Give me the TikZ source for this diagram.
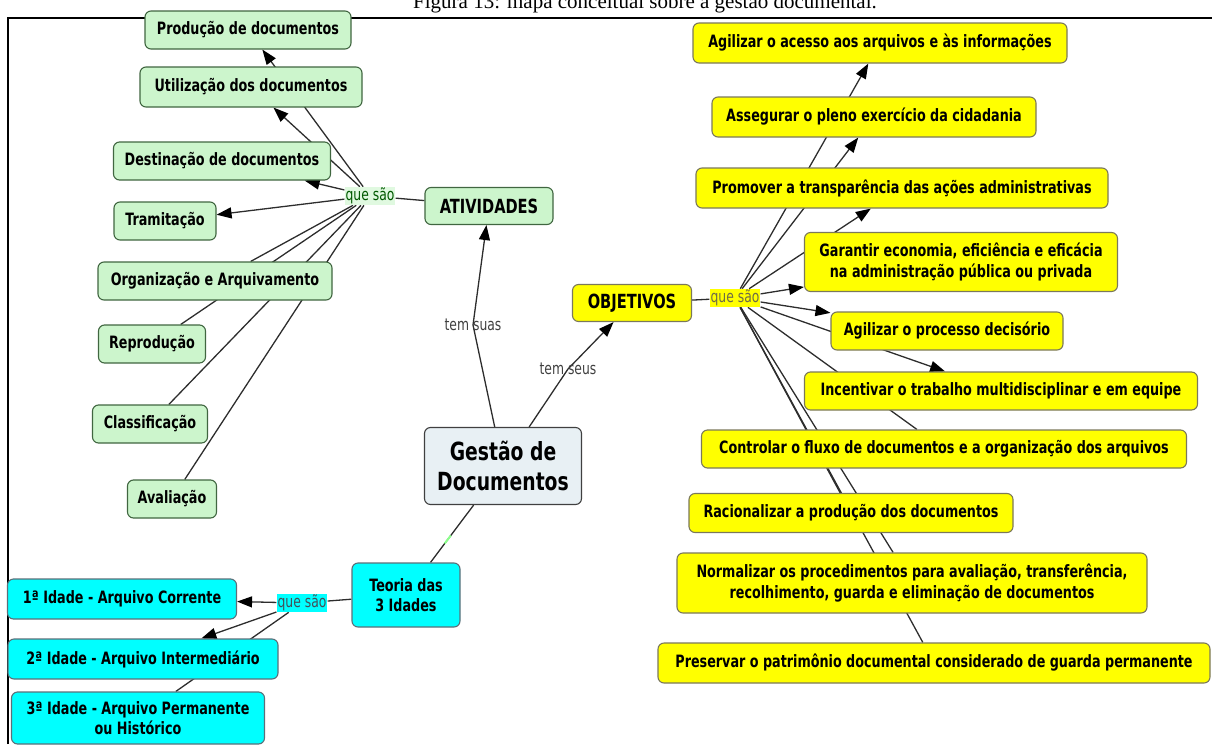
\documentclass[tikz,border=0pt]{standalone}
\usepackage{fontspec}
\usepackage{xcolor}
\usepackage{tikz}
\usetikzlibrary{arrows.meta,backgrounds}
\newfontfamily\cmapfont{DejaVu Sans}[FakeStretch=0.75]
\newfontfamily\capfont{Liberation Serif}
\definecolor{verde}{RGB}{204,245,204}
\definecolor{amarelo}{RGB}{255,255,0}
\definecolor{ciano}{RGB}{0,255,255}
\definecolor{cinza}{RGB}{232,240,244}
\definecolor{linha}{RGB}{45,45,45}

\begin{document}
\begin{tikzpicture}[x=1pt,y=-1pt,
  conc/.style={draw=black!75,line width=1.1pt,rounded corners=6pt,inner sep=2pt,align=center,
    font=\cmapfont\bfseries\fontsize{17}{20.5}\selectfont,text=black},
  gconc/.style={conc,fill=verde,draw=green!20!black!75},
  yconc/.style={conc,fill=amarelo,draw=yellow!30!black!85},
  cconc/.style={conc,fill=ciano,draw=cyan!30!black!85},
  link/.style={font=\cmapfont\fontsize{16.5}{20}\selectfont,text=black!75,inner sep=1pt},
  every edge/.append style={draw=linha,line width=1.3pt},
  >={Triangle[length=15pt,width=11pt,color=black]}]
\useasboundingbox (0,0) rectangle (1212,744);

% titulo e moldura
\node[font=\capfont\fontsize{21}{24}\selectfont,anchor=base] (titulo) at (645,9) {Figura 13: mapa conceitual sobre a gestão documental.};
\draw[line width=2pt] (8,744) -- (8,18) -- (1212,18);

% centro
\node[conc,fill=cinza,minimum width=157,minimum height=77,
  font=\cmapfont\bfseries\fontsize{25}{30}\selectfont] (gest) at (503,466) {Gestão de\\Documentos};
\node[link] (tsuas) at (473,325) {tem suas};
\node[link] (tseus) at (568,369) {tem seus};

% atividades
\node[gconc,minimum width=128,minimum height=37,font=\cmapfont\bfseries\fontsize{19.5}{22}\selectfont] (ativ) at (489,206) {ATIVIDADES};
\node[link,fill=verde!60,text=green!35!black] (qsG) at (370,196) {que são};
\node[gconc,minimum width=206,minimum height=38] (prod) at (248,30)  {Produção de documentos};
\node[gconc,minimum width=222,minimum height=40] (util) at (251,87)  {Utilização dos documentos};
\node[gconc,minimum width=217,minimum height=38] (dest) at (222,161) {Destinação de documentos};
\node[gconc,minimum width=102,minimum height=38] (tram) at (165,221) {Tramitação};
\node[gconc,minimum width=234,minimum height=38] (org)  at (215,281) {Organização e Arquivamento};
\node[gconc,minimum width=107,minimum height=38] (repr) at (152,344) {Reprodução};
\node[gconc,minimum width=115,minimum height=38] (clas) at (150,424) {Classificação};
\node[gconc,minimum width=89,minimum height=38]  (aval) at (172,499) {Avaliação};

% objetivos
\node[yconc,minimum width=119,minimum height=37,font=\cmapfont\bfseries\fontsize{19.5}{22}\selectfont] (obj) at (632,303) {OBJETIVOS};
\node[link,fill=amarelo,text=yellow!35!black] (qsY) at (735,298) {que são};
\node[yconc,minimum width=374,minimum height=40] (ag1)  at (880,43)  {Agilizar o acesso aos arquivos e às informações};
\node[yconc,minimum width=324,minimum height=40] (ass)  at (874,117) {Assegurar o pleno exercício da cidadania};
\node[yconc,minimum width=412,minimum height=40] (prom) at (902,188) {Promover a transparência das ações administrativas};
\node[yconc,minimum width=313,minimum height=59] (gar)  at (961,262) {Garantir economia, eficiência e eficácia\\na administração pública ou privada};
\node[yconc,minimum width=232,minimum height=38] (ag2)  at (947,331) {Agilizar o processo decisório};
\node[yconc,minimum width=393,minimum height=38] (inc)  at (1001,391) {Incentivar o trabalho multidisciplinar e em equipe};
\node[yconc,minimum width=485,minimum height=38] (cont) at (944,449) {Controlar o fluxo de documentos e a organização dos arquivos};
\node[yconc,minimum width=324,minimum height=39] (rac)  at (851,513) {Racionalizar a produção dos documentos};
\node[yconc,minimum width=470,minimum height=60] (norm) at (912,583) {Normalizar os procedimentos para avaliação, transferência,\\recolhimento, guarda e eliminação de documentos};
\node[yconc,minimum width=552,minimum height=40] (pres) at (934,663) {Preservar o patrimônio documental considerado de guarda permanente};

% idades
\node[cconc,minimum width=108,minimum height=64] (teoria) at (406,595) {Teoria das\\3 Idades};
\node[link,fill=ciano,text=cyan!25!black] (qsC) at (302,603) {que são};
\node[cconc,minimum width=229,minimum height=40] (id1) at (122,599) {1ª Idade - Arquivo Corrente};
\node[cconc,minimum width=270,minimum height=40] (id2) at (143,659) {2ª Idade - Arquivo Intermediário};
\node[cconc,minimum width=253,minimum height=52] (id3) at (138,718) {3ª Idade - Arquivo Permanente\\ou Histórico};

\begin{pgfonlayer}{background}
  \path (gest) edge (tsuas.center)
        (ativ) edge (qsG)
        (gest) edge (tseus.center)
        (obj) edge (qsY)
        (teoria) edge (qsC);
  \path (gest) edge node[pos=.6,sloped,fill=green!45,inner sep=0pt,minimum width=10pt,minimum height=2pt] (marca) {} (teoria);

  \path[->]
        (tsuas.center) edge (ativ)
        (tseus.center) edge (obj);

  \path[->]
        (qsG) edge (prod)
        (qsG) edge (util)
        (qsG) edge (dest)
        (qsG) edge (tram);
  \path
        (qsG) edge (org)
        (qsG) edge (repr)
        (qsG) edge (clas)
        (qsG) edge (aval);

  \path[->]
        (qsY) edge (ag1)
        (qsY) edge (ass)
        (qsY) edge (prom)
        (qsY) edge (gar)
        (qsY) edge (ag2)
        (qsY) edge (inc);
  \path
        (qsY) edge (cont)
        (qsY) edge (rac)
        (qsY) edge (norm)
        (qsY) edge (pres);

  \path[->]
        (qsC) edge (id1)
        (qsC) edge (id2);
  \path
        (qsC) edge (id3);
\end{pgfonlayer}
\end{tikzpicture}
\end{document}
